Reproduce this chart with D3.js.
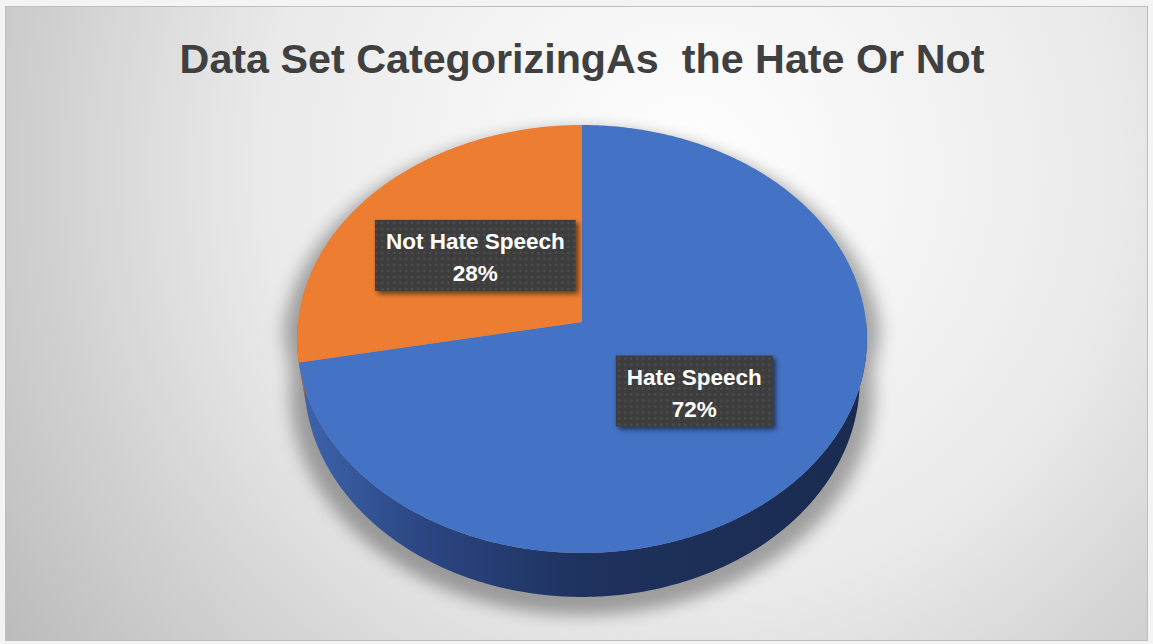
<!DOCTYPE html>
<html>
<head>
<meta charset="utf-8">
<script src="https://cdn.jsdelivr.net/npm/d3@7"></script>
<style>
  body { margin: 0; background: #f4f4f4; }
  svg { display: block; }
</style>
</head>
<body>
<svg id="chart"></svg>
<script>
// data
let categories = ["Hate Speech", "Not Hate Speech"];
let values = [72, 28];
let colors = ["#4472C4", "#ED7D31"];
let title = "Data Set CategorizingAs  the Hate Or Not";

let width = 1153;
let height = 644;

let svg = d3.select("#chart")
  .attr("width", width)
  .attr("height", height);

let defs = svg.append("defs");

// background gradient
let bg = defs.append("radialGradient")
  .attr("id", "bg")
  .attr("gradientUnits", "userSpaceOnUse")
  .attr("cx", 690).attr("cy", 170).attr("r", 860);
bg.append("stop").attr("offset", 0).attr("stop-color", "#ffffff");
bg.append("stop").attr("offset", 0.5).attr("stop-color", "#eaeaea");
bg.append("stop").attr("offset", 1).attr("stop-color", "#b8b8b8");

// side gradient (blue side goes dark to the right)
let sideBlue = defs.append("linearGradient")
  .attr("id", "side0")
  .attr("gradientUnits", "userSpaceOnUse")
  .attr("x1", 297).attr("x2", 867).attr("y1", 0).attr("y2", 0);
sideBlue.append("stop").attr("offset", 0).attr("stop-color", "#3e65ae");
sideBlue.append("stop").attr("offset", 0.22).attr("stop-color", "#2b4682");
sideBlue.append("stop").attr("offset", 0.5).attr("stop-color", "#1e325e");
sideBlue.append("stop").attr("offset", 1).attr("stop-color", "#1a2b4f");

let sideOrange = defs.append("linearGradient")
  .attr("id", "side1")
  .attr("gradientUnits", "userSpaceOnUse")
  .attr("x1", 297).attr("x2", 867).attr("y1", 0).attr("y2", 0);
sideOrange.append("stop").attr("offset", 0).attr("stop-color", "#c5621f");
sideOrange.append("stop").attr("offset", 1).attr("stop-color", "#7a3a10");

// blur for pie shadow
defs.append("filter")
  .attr("id", "blur")
  .attr("x", "-20%").attr("y", "-20%").attr("width", "140%").attr("height", "140%")
  .append("feGaussianBlur").attr("stdDeviation", 8);

// label box shadow
let ds = defs.append("filter")
  .attr("id", "boxshadow")
  .attr("x", "-20%").attr("y", "-30%").attr("width", "150%").attr("height", "170%");
ds.append("feDropShadow")
  .attr("dx", 3).attr("dy", 3).attr("stdDeviation", 2.5)
  .attr("flood-color", "#000").attr("flood-opacity", 0.55);

// dotted pattern in label boxes
let pat = defs.append("pattern")
  .attr("id", "dots")
  .attr("patternUnits", "userSpaceOnUse")
  .attr("width", 6).attr("height", 6);
pat.append("rect").attr("width", 6).attr("height", 6).attr("fill", "#3d3d3d");
pat.append("circle").attr("cx", 3).attr("cy", 3).attr("r", 1.3).attr("fill", "#4e4e4e");

// background + frame
svg.append("rect")
  .attr("x", 5.5).attr("y", 6.5)
  .attr("width", width - 11).attr("height", height - 10)
  .attr("fill", "url(#bg)")
  .attr("stroke", "#bfbfbf");

// title
let titleText = svg.append("text")
  .attr("x", 582)
  .attr("y", 73)
  .attr("text-anchor", "middle")
  .style("white-space", "pre")
  .style("font-family", "'Liberation Sans', Arial, sans-serif")
  .style("font-weight", "bold")
  .style("font-size", "41px")
  .style("fill", "#404040")
  .text(title);
let tw = titleText.node().getComputedTextLength();
titleText.style("font-size", (41 * 805 / tw) + "px");

// 3d pie projection (perspective: near side bigger, bottom face a bit narrower)
let cx = 582, cy = 322;
let rx = 284, ry = 212.6, persp = -0.0794, depth = 40.5;
let bottomShrink = 0.975;

function proj(t, r, drop) {
  let k = 1 - (1 - bottomShrink) * drop / depth;
  let u = r * Math.sin(t) * k;
  let v = -r * Math.cos(t);
  let w = 1 + persp * v;
  return [cx + rx * u / w, cy + (ry * v + drop) / w];
}

function arcPoints(a0, a1, r, drop) {
  let n = Math.max(2, Math.ceil((a1 - a0) / 0.01));
  let pts = [];
  for (let i = 0; i <= n; i++) {
    pts.push(proj(a0 + (a1 - a0) * i / n, r, drop));
  }
  return pts;
}

let line = d3.line();

let pie = d3.pie().sort(null).value(d => d)(values);

// shadow under pie
let silhouette = arcPoints(-Math.PI / 2, Math.PI / 2, 1, 0)
  .concat(arcPoints(Math.PI / 2, 3 * Math.PI / 2, 1, depth));
svg.append("path")
  .attr("d", line(silhouette) + "Z")
  .attr("fill", "#000")
  .attr("opacity", 0.33)
  .attr("filter", "url(#blur)")
  .attr("transform", `translate(${cx},${cy + 10}) scale(1.05,1.03) translate(${-cx},${-cy})`);

// sides (only the front half shows)
pie.forEach((d, i) => {
  let s0 = Math.max(d.startAngle, Math.PI / 2);
  let s1 = Math.min(d.endAngle, 3 * Math.PI / 2);
  if (s1 <= s0) return;
  let pts = arcPoints(s0, s1, 1, 0).concat(arcPoints(s0, s1, 1, depth).reverse());
  svg.append("path")
    .attr("d", line(pts) + "Z")
    .attr("fill", `url(#side${i})`);
});

// top faces
pie.forEach((d, i) => {
  let pts = [proj(0, 0, 0)].concat(arcPoints(d.startAngle, d.endAngle, 1, 0));
  svg.append("path")
    .attr("d", line(pts) + "Z")
    .attr("fill", colors[i]);
});

// data labels
pie.forEach((d, i) => {
  let mid = (d.startAngle + d.endAngle) / 2;
  let c = proj(mid, 0.5, 0);
  let g = svg.append("g").attr("transform", `translate(${c[0]},${c[1]})`);
  let box = g.append("rect").attr("fill", "url(#dots)").attr("filter", "url(#boxshadow)");
  let t1 = g.append("text")
    .attr("y", -7)
    .attr("text-anchor", "middle")
    .style("font-family", "'Liberation Sans', Arial, sans-serif")
    .style("font-weight", "bold")
    .style("font-size", "22.5px")
    .style("fill", "#ffffff")
    .text(categories[i]);
  g.append("text")
    .attr("y", 25)
    .attr("text-anchor", "middle")
    .style("font-family", "'Liberation Sans', Arial, sans-serif")
    .style("font-weight", "bold")
    .style("font-size", "22.5px")
    .style("fill", "#ffffff")
    .text(Math.round(d.value / d3.sum(values) * 100) + "%");
  let bw = t1.node().getComputedTextLength() + 22;
  box.attr("x", -bw / 2).attr("y", -36).attr("width", bw).attr("height", 71);
});
</script>
</body>
</html>
